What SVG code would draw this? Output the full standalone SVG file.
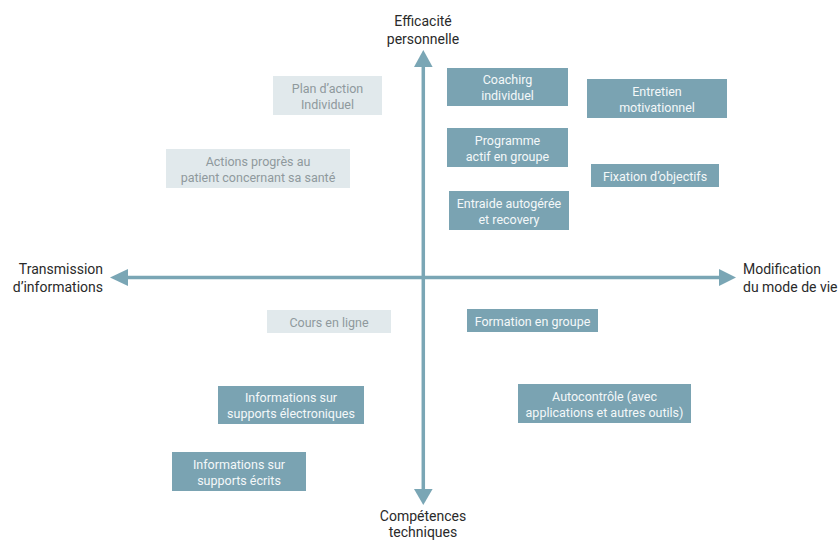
<svg xmlns="http://www.w3.org/2000/svg" width="838" height="541" viewBox="0 0 838 541">
<style>
.ax{stroke:#7aa6b5;stroke-width:3.5;fill:none}
.ah{fill:#7aa6b5}
.dk rect{fill:#7aa3b2}
.dk text{fill:#f4f8f9}
.lt rect{fill:#e1e9ec}
.lt text{fill:#8f999d}
text{font-family:Roboto,"Liberation Sans",sans-serif;font-size:12.5px;text-anchor:middle}
.lbl{fill:#2a2a2a;font-size:14px}
</style>
<rect width="838" height="541" fill="#ffffff"/>
<g id="connectors">
<line class="ax" x1="423.3" y1="64" x2="423.3" y2="492"/>
<line class="ax" x1="125" y1="277.5" x2="722" y2="277.5"/>
<polygon class="ah" points="423.3,50 414,67 432.6,67"/>
<polygon class="ah" points="423.3,505 414,489 432.6,489"/>
<polygon class="ah" points="110,277.5 128,269 128,286"/>
<polygon class="ah" points="736,277.5 719,269 719,286"/>
</g>
<g id="label-top"><text class="lbl" x="423" y="26">Efficacité</text><text class="lbl" x="423" y="44">personnelle</text></g>
<g id="label-left"><text class="lbl" x="103" y="274" style="text-anchor:end">Transmission</text><text class="lbl" x="103" y="292" style="text-anchor:end">d’informations</text></g>
<g id="label-right"><text class="lbl" x="743" y="274" style="text-anchor:start">Modification</text><text class="lbl" x="743" y="292" style="text-anchor:start">du mode de vie</text></g>
<g id="label-bottom"><text class="lbl" x="423" y="521">Compétences</text><text class="lbl" x="423" y="536.5">techniques</text></g>

<g id="coaching" class="dk"><rect x="447" y="68" width="121" height="38"/><text x="507.5" y="84">Coachirg</text><text x="507.5" y="100">individuel</text></g>
<g id="entretien" class="dk"><rect x="587" y="79" width="140" height="39"/><text x="657" y="95.5">Entretien</text><text x="657" y="111.5">motivationnel</text></g>
<g id="programme" class="dk"><rect x="447" y="128" width="121" height="39"/><text x="507.5" y="144.5">Programme</text><text x="507.5" y="160.5">actif en groupe</text></g>
<g id="fixation" class="dk"><rect x="591" y="164" width="128" height="23"/><text x="655" y="180.5">Fixation d’objectifs</text></g>
<g id="entraide" class="dk"><rect x="449" y="191" width="120" height="39"/><text x="509" y="207.5">Entraide autogérée</text><text x="509" y="223.5">et recovery</text></g>
<g id="formation" class="dk"><rect x="467" y="309" width="131" height="23"/><text x="532.5" y="325.5">Formation en groupe</text></g>
<g id="autocontrole" class="dk"><rect x="518" y="384" width="173" height="39"/><text x="604.5" y="400.5">Autocontrôle (avec</text><text x="604.5" y="416.5">applications et autres outils)</text></g>
<g id="info-electroniques" class="dk"><rect x="218" y="386" width="146" height="38"/><text x="291" y="402">Informations sur</text><text x="291" y="418">supports électroniques</text></g>
<g id="info-ecrits" class="dk"><rect x="172" y="452" width="134" height="39"/><text x="239" y="468.5">Informations sur</text><text x="239" y="484.5">supports écrits</text></g>

<g id="plan-action" class="lt"><rect x="273" y="76" width="109" height="39"/><text x="327.5" y="92.5">Plan d’action</text><text x="327.5" y="108.5">Individuel</text></g>
<g id="actions-progres" class="lt"><rect x="166" y="149" width="184" height="39"/><text x="258" y="165.5">Actions progrès au</text><text x="258" y="181.5">patient concernant sa santé</text></g>
<g id="cours-en-ligne" class="lt"><rect x="267" y="310" width="124" height="23"/><text x="329" y="326.5">Cours en ligne</text></g>
</svg>
